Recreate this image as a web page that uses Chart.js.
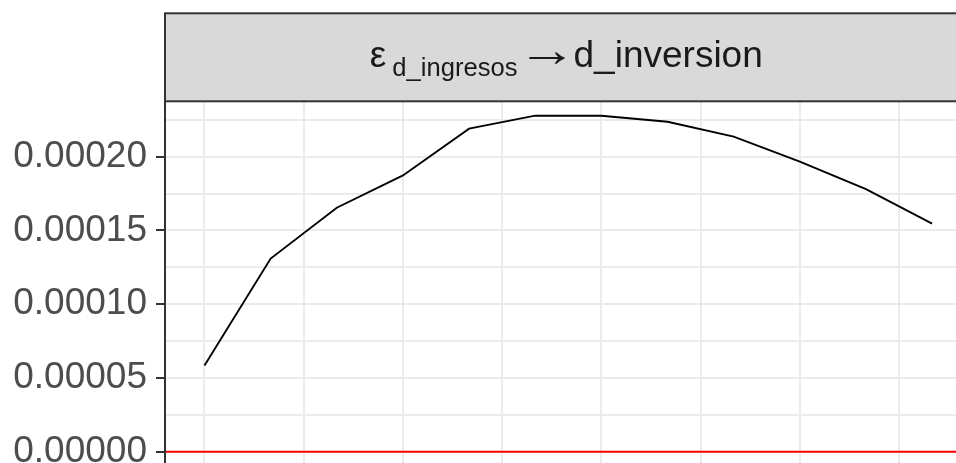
<!DOCTYPE html>
<html>
<head>
<meta charset="utf-8">
<script src="https://cdn.jsdelivr.net/npm/chart.js@4/dist/chart.umd.min.js"></script>
<style>
  html, body { margin: 0; padding: 0; background: #ffffff; }
  canvas { display: block; }
</style>
</head>
<body>
<canvas id="irf" width="956" height="463"></canvas>
<script>
// Impulse response: effect of a shock in d_ingresos on d_inversion
const horizons = [1, 2, 3, 4, 5, 6, 7, 8, 9, 10, 11, 12];
const response = [0.0000585, 0.0001309, 0.0001654, 0.0001873, 0.0002190, 0.0002278,
                  0.0002278, 0.0002237, 0.0002136, 0.0001966, 0.0001780, 0.0001546];

// Axis breaks and labels
const yTickValues = [0, 0.00005, 0.00010, 0.00015, 0.00020];
const yTickLabels = ['0.00000', '0.00005', '0.00010', '0.00015', '0.00020'];
const yMinorValues = [0.000025, 0.000075, 0.000125, 0.000175, 0.000225];
const xBreaks = [1, 4, 7, 10];
const xMinorBreaks = [2.5, 5.5, 8.5, 11.5];

// Reference level drawn in red
const zeroLevel = 0;

// Facet strip label pieces: ε_{shock} → response
const stripSymbol = 'ε';
const stripShock = 'd_ingresos';
const stripArrow = '→';
const stripResponse = 'd_inversion';

const FONT = '"Liberation Sans", Arial, Helvetica, sans-serif';
const GRID = '#EBEBEB';
const DARK = '#333333';

const isMajorY = v => yTickValues.some(t => Math.abs(t - v) < 1e-12);

// Draws the grey facet strip and the panel's left border
const stripPlugin = {
  id: 'facetStrip',
  afterDraw(chart) {
    const { ctx, chartArea, scales } = chart;
    const left = chartArea.left - 1;
    const top = 13.3, bottom = 101.3;
    ctx.save();
    ctx.fillStyle = '#D9D9D9';
    ctx.fillRect(left, top, chart.width - left + 10, bottom - top);
    ctx.strokeStyle = DARK;
    ctx.lineWidth = 2;
    ctx.strokeRect(left, top, chart.width - left + 10, bottom - top);
    // panel border (left side)
    ctx.beginPath();
    ctx.moveTo(left, bottom);
    ctx.lineTo(left, chart.height + 2);
    ctx.stroke();

    // strip label, centred on the panel
    const cx = scales.x.getPixelForValue((horizons[0] + horizons[horizons.length - 1]) / 2) - 2;
    const mainFont = '37px ' + FONT;
    const subFont = '25.6px ' + FONT;
    const arrowWidth = 37;
    ctx.font = mainFont;
    const wSym = ctx.measureText(stripSymbol).width;
    const mArrow = ctx.measureText(stripArrow);
    const arrowInkLeft = -mArrow.actualBoundingBoxLeft;
    const arrowInk = mArrow.actualBoundingBoxRight + mArrow.actualBoundingBoxLeft;
    const wResp = ctx.measureText(stripResponse).width;
    ctx.font = subFont;
    const wShock = ctx.measureText(stripShock).width;
    const g1 = 6, g2 = 11, g3 = 8;
    const total = wSym + g1 + wShock + g2 + arrowWidth + g3 + wResp;
    let x = cx - total / 2;
    const base = 67, subBase = 76;
    ctx.fillStyle = '#1A1A1A';
    ctx.textBaseline = 'alphabetic';
    ctx.textAlign = 'left';
    ctx.font = mainFont;
    ctx.fillText(stripSymbol, x, base);
    x += wSym + g1;
    ctx.font = subFont;
    ctx.fillText(stripShock, x, subBase);
    x += wShock + g2;
    // long arrow: the glyph's ink stretched to the wanted width
    ctx.font = mainFont;
    ctx.save();
    const sx = arrowWidth / arrowInk;
    ctx.translate(x - arrowInkLeft * sx, base - 1);
    ctx.scale(sx, 1.3);
    ctx.fillText(stripArrow, 0, 0);
    ctx.restore();
    x += arrowWidth + g3;
    ctx.fillText(stripResponse, x, base);
    ctx.restore();
  }
};

new Chart(document.getElementById('irf'), {
  type: 'line',
  data: {
    datasets: [
      {
        label: 'respuesta',
        data: horizons.map((h, i) => ({ x: h, y: response[i] })),
        borderColor: '#000000',
        borderWidth: 1.9,
        pointRadius: 0,
        tension: 0,
        fill: false,
        order: 1
      },
      {
        label: 'cero',
        data: [{ x: 0, y: zeroLevel }, { x: 14, y: zeroLevel }],
        borderColor: '#FF0000',
        borderWidth: 2,
        pointRadius: 0,
        fill: false,
        order: 2
      }
    ]
  },
  options: {
    responsive: false,
    devicePixelRatio: 1,
    animation: false,
    events: [],
    layout: { autoPadding: false, padding: { top: 102, left: 0, right: 0, bottom: 0 } },
    plugins: { legend: { display: false }, tooltip: { enabled: false }, title: { display: false } },
    scales: {
      x: {
        type: 'linear',
        min: 0.418,
        max: 12.361,
        afterBuildTicks(scale) {
          scale.ticks = xBreaks.concat(xMinorBreaks).sort((a, b) => a - b).map(v => ({ value: v }));
        },
        afterFit(scale) {
          scale.height = 0;
          scale.paddingLeft = scale.paddingRight = scale.paddingTop = scale.paddingBottom = 0;
        },
        ticks: { display: false },
        border: { display: false },
        grid: { color: GRID, lineWidth: 2, drawTicks: false }
      },
      y: {
        type: 'linear',
        min: -0.00000766,
        max: 0.00023708,
        afterBuildTicks(scale) {
          scale.ticks = yTickValues.concat(yMinorValues).sort((a, b) => a - b).map(v => ({ value: v }));
        },
        afterFit(scale) {
          scale.width = 166;
          scale.paddingTop = scale.paddingBottom = 0;
        },
        border: { display: false },
        grid: {
          color: GRID,
          lineWidth: 2,
          drawTicks: true,
          tickLength: 10,
          tickWidth: 2,
          tickColor: c => (c.tick && isMajorY(c.tick.value)) ? DARK : 'rgba(0,0,0,0)'
        },
        ticks: {
          autoSkip: false,
          padding: 9,
          color: '#4D4D4D',
          font: { family: FONT, size: 37 },
          callback: v => {
            const i = yTickValues.findIndex(t => Math.abs(t - v) < 1e-12);
            return i >= 0 ? yTickLabels[i] : '';
          }
        }
      }
    }
  },
  plugins: [stripPlugin]
});
</script>
</body>
</html>
